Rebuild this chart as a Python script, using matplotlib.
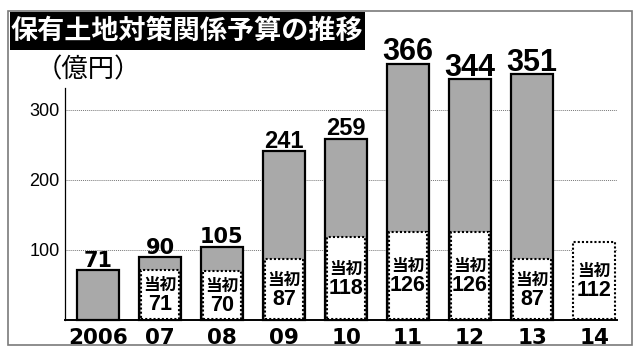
import matplotlib
matplotlib.use('Agg')
import matplotlib.pyplot as plt
from matplotlib.patches import Rectangle

# data (億円)
years = ['2006', '07', '08', '09', '10', '11', '12', '13', '14']
totals = [71, 90, 105, 241, 259, 366, 344, 351, None]   # final budget
initial = [None, 71, 70, 87, 118, 126, 126, 87, 112]    # 当初 budget
yticks = [100, 200, 300]

title = '保有土地対策関係予算の推移'
unit = '（億円）'
init_word = '当初'

JP = ['Noto Sans CJK JP', 'DejaVu Sans']
NARROW = ['Liberation Sans Narrow', 'Liberation Sans']

W, H = 640, 361
fig = plt.figure(figsize=(W / 100, H / 100), dpi=100)

# pixel layout of the plotting area
x0, x1, y_base, y_top = 65, 617, 320, 88
px_per_unit = 0.70
ax = fig.add_axes([x0 / W, (H - y_base) / H, (x1 - x0) / W, (y_base - y_top) / H])
ax.set_ylim(0, (y_base - y_top) / px_per_unit)
c0, step = 98, 62
ax.set_xlim((x0 - c0) / step, (x1 - c0) / step)

bar_w = 0.68
gray = '#a9a9a9'

for i, (tot, ini) in enumerate(zip(totals, initial)):
    if tot is not None:
        ax.bar(i, tot, width=bar_w, color=gray, edgecolor='black',
               linewidth=1.6, zorder=2, clip_on=False)
        if i < 3:
            fp = dict(family='DejaVu Sans', size=15)
        elif i < 5:
            fp = dict(family='Liberation Sans', size=17)
        else:
            fp = dict(family=NARROW, size=22)
        ax.text(i, tot + 5, str(tot), ha='center', va='baseline',
                fontweight='bold', zorder=5, clip_on=False, **fp)
    if ini is not None:
        w = bar_w - 0.08 if tot is not None else bar_w
        ax.add_patch(Rectangle((i - w / 2, 1.5), w, ini - 1.5,
                               facecolor='white', edgecolor='black',
                               linewidth=1.5, linestyle=(0, (1, 1)), zorder=3))
        mid = ini / 2
        ax.text(i, mid + 14, init_word, ha='center', va='center',
                family=JP, fontsize=12, fontweight='bold', zorder=5)
        nfam = NARROW if ini >= 100 else ['Liberation Sans']
        ax.text(i, mid - 14, str(ini), ha='center', va='center',
                family=nfam, fontsize=15.5, fontweight='bold', zorder=5)

# grid and axes
ax.set_yticks(yticks)
ax.set_yticklabels([str(v) for v in yticks], family='Liberation Sans', fontsize=13)
ax.yaxis.grid(True, color='#777777', linestyle=(0, (1, 1)), linewidth=0.7, zorder=0)
ax.set_axisbelow(True)
ax.set_xticks(range(len(years)))
ax.set_xticklabels(years, family='DejaVu Sans', fontsize=15.5, fontweight='bold')
ax.tick_params(axis='both', length=0)
ax.tick_params(axis='x', pad=6)
ax.tick_params(axis='y', pad=4)
for s in ['top', 'right']:
    ax.spines[s].set_visible(False)
ax.spines['left'].set_linewidth(0.9)
ax.spines['bottom'].set_linewidth(1.4)
ax.patch.set_visible(False)

# outer frame and title box
fig.patches.append(Rectangle((8 / W, (H - 345) / H), 624 / W, 334 / H,
                             transform=fig.transFigure, fill=False,
                             edgecolor='#7a7a7a', linewidth=1.2))
fig.patches.append(Rectangle((10 / W, (H - 50) / H), 355 / W, 38 / H,
                             transform=fig.transFigure, facecolor='black',
                             edgecolor='none'))
fig.text(187 / W, (H - 31) / H, title, ha='center', va='center', color='white',
         family=JP, fontsize=19.5, fontweight='bold')
fig.text(88 / W, (H - 70) / H, unit, ha='center', va='center',
         family=JP, fontsize=19)

fig.savefig('out.png', dpi=100, facecolor='white')
